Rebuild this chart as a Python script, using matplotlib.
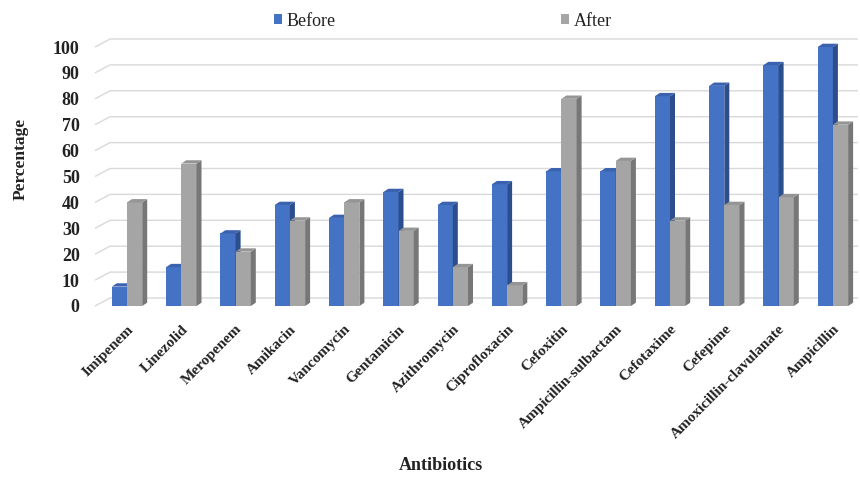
import matplotlib
matplotlib.use("Agg")
import matplotlib.pyplot as plt
from matplotlib.patches import Polygon, Patch

plt.rcParams['font.family'] = ['Liberation Serif', 'DejaVu Serif']

antibiotics = ["Imipenem", "Linezolid", "Meropenem", "Amikacin", "Vancomycin",
               "Gentamicin", "Azithromycin", "Ciprofloxacin", "Cefoxitin",
               "Ampicillin-sulbactam", "Cefotaxime", "Cefepime",
               "Amoxicillin-clavulanate", "Ampicillin"]
before = [7.5, 15, 28, 39, 34, 44, 39, 47, 52, 52, 81, 85, 93, 100]
after = [40, 55, 21, 33, 40, 29, 15, 8, 80, 56, 33, 39, 42, 70]
y_ticks = list(range(0, 101, 10))

BLUE = ("#4472C4", "#2C4E8C", "#3A62AE")   # front, side, top
GRAY = ("#A5A5A5", "#777777", "#959595")
GRID = "#D9D9D9"

W, H, DPI = 860, 483, 100
fig = plt.figure(figsize=(W / DPI, H / DPI), dpi=DPI)

# pixel geometry of the plotting box
x0_px, px_per_cat = 127, 54.3
left_px, right_px = 95, 858
y0_px, px_per_unit = 306, 2.59
ytop = 106
top_px = y0_px - ytop * px_per_unit

ax = fig.add_axes([left_px / W, (H - y0_px) / H,
                   (right_px - left_px) / W, (y0_px - top_px) / H])
xl = (left_px - x0_px) / px_per_cat
xr = (right_px - x0_px) / px_per_cat
ax.set_xlim(xl, xr)
ax.set_ylim(0, ytop)
for s in ax.spines.values():
    s.set_visible(False)

# back wall and side wall gridlines
dxw, dyw = 15 / px_per_cat, 8 / px_per_unit
for g in y_ticks:
    ax.plot([xl, xl + dxw, xr], [g, g + dyw, g + dyw], color=GRID, lw=1.0,
            zorder=0, clip_on=False, solid_capstyle='butt')

# bars with depth
bw = 0.28
dxb, dyb = 5 / px_per_cat, 3.3 / px_per_unit


def draw_series(xs, vals, cols, z):
    ax.bar(xs, vals, width=bw, align='edge', color=cols[0], zorder=z,
           linewidth=0)
    for x, v in zip(xs, vals):
        side = [(x + bw, 0), (x + bw, v), (x + bw + dxb, v + dyb), (x + bw + dxb, dyb)]
        top = [(x, v), (x + bw, v), (x + bw + dxb, v + dyb), (x + dxb, v + dyb)]
        ax.add_patch(Polygon(side, closed=True, facecolor=cols[1], edgecolor='none', zorder=z))
        ax.add_patch(Polygon(top, closed=True, facecolor=cols[2], edgecolor='none', zorder=z))


pos = list(range(len(antibiotics)))
draw_series([p - bw for p in pos], before, BLUE, 2)
draw_series(pos, after, GRAY, 3)

ax.set_yticks(y_ticks)
ax.set_yticklabels([str(t) for t in y_ticks], fontsize=13, fontweight='bold',
                   color='#222222')
ax.tick_params(axis='y', length=0, pad=11)

ax.set_xticks(pos)
ax.set_xticklabels(antibiotics, rotation=45, ha='right', va='top',
                   rotation_mode='anchor', fontsize=11, fontweight='bold',
                   color='#222222')
ax.tick_params(axis='x', length=0, pad=12)

fig.text(21 / W, 1 - 159 / H, "Percentage", rotation=90, ha='center',
         va='center', fontsize=12.5, fontweight='bold', color='#222222')
fig.text(441 / W, 1 - 466 / H, "Antibiotics", ha='center', va='center',
         fontsize=13, fontweight='bold', color='#222222')

handles = [Patch(facecolor=BLUE[0], edgecolor='none', label="Before"),
           Patch(facecolor=GRAY[0], edgecolor='none', label="After")]
fig.legend(handles=handles, loc='center', bbox_to_anchor=(443 / W, 1 - 21 / H),
           ncol=2, frameon=False, fontsize=13, handlelength=0.45,
           handleheight=0.45, handletextpad=0.25, columnspacing=12.5,
           labelcolor='#222222')

fig.savefig("out.png", dpi=DPI)
